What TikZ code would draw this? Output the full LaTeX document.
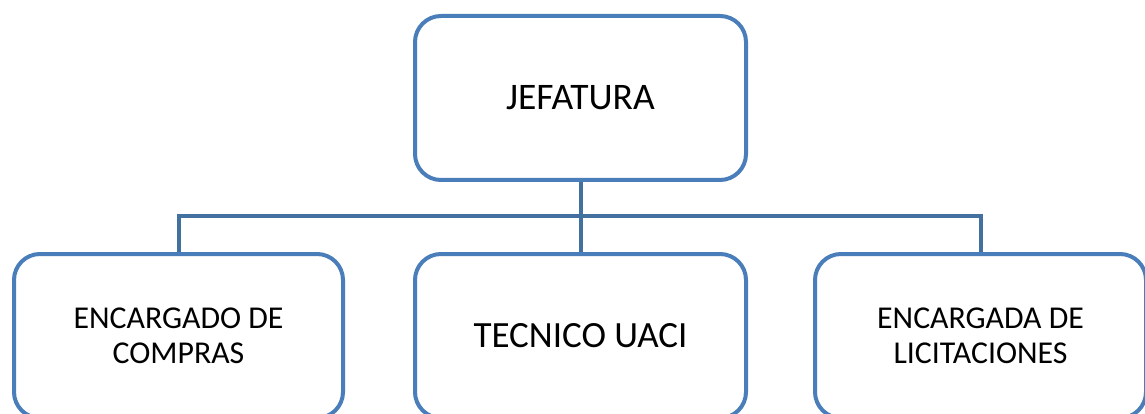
\documentclass[tikz,border=0pt]{standalone}
\usepackage{fontspec}
\setmainfont{Carlito}
\definecolor{boxblue}{HTML}{4A7EBB}
\definecolor{linkblue}{HTML}{43719F}
\begin{document}
\begin{tikzpicture}[x=1pt,y=1pt,
  orgbox/.style={draw=boxblue,line width=4pt,rounded corners=26pt,fill=white,
    minimum width=331pt,minimum height=164pt,inner sep=0pt,align=center,text=black},
  link/.style={draw=linkblue,line width=4pt}]
\useasboundingbox[fill=white] (0,0) rectangle (1145,-414);
\node[orgbox,font=\fontsize{37.5}{41}\selectfont] (jef) at (580.5,-98) {JEFATURA};
\node[orgbox,minimum width=329pt,font=\fontsize{31.8}{35}\selectfont] (comp) at (178.5,-336) {ENCARGADO DE\\COMPRAS};
\node[orgbox,font=\fontsize{37}{41}\selectfont] (tec) at (580.5,-336) {TECNICO UACI};
\node[orgbox,font=\fontsize{31.8}{35}\selectfont] (lic) at (980.5,-336) {ENCARGADA DE\\LICITACIONES};
\coordinate (bus) at (580.5,-216);
\draw[link] (jef.south) -- (bus);
\draw[link] (comp.north) |- (bus) -| (lic.north);
\draw[link] (bus) -- (tec.north);
\end{tikzpicture}
\end{document}
